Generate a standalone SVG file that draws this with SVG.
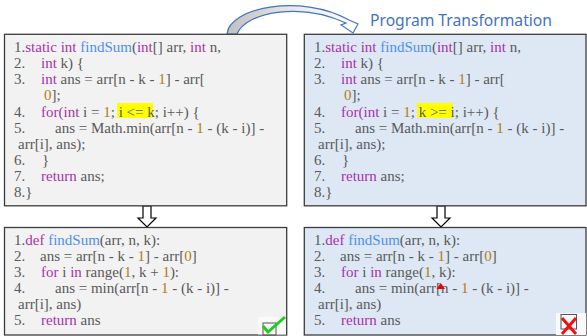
<svg xmlns="http://www.w3.org/2000/svg" width="587" height="336" viewBox="0 0 587 336">
<defs>
<style>
.box{stroke:#3c3c3c;stroke-width:1.3}
.gray{fill:#f2f2f2}
.blue{fill:#dde8f4}
text.c{font-family:"Liberation Serif","Times New Roman",serif;font-size:15px;fill:#595959}
.k{fill:#a832a8}
.f{fill:#4f8ef0}
.n{fill:#b07d12}
.hl{fill:#ffff00}
.down{fill:#ffffff;stroke:#000;stroke-width:1.2}
</style>
<linearGradient id="cg" x1="0" y1="0" x2="1" y2="0">
<stop offset="0" stop-color="#c0c0c0"/>
<stop offset="0.55" stop-color="#ececec"/>
<stop offset="1" stop-color="#ffffff"/>
</linearGradient>
</defs>
<rect width="587" height="336" fill="#ffffff"/>

<g id="connectors">
<path d="M227,34 C229,8 300,-7 349,20 L358,24 L353,33 L341,25 L346,23 C300,2 246,12 237,34 Z" fill="url(#cg)" stroke="#4472c4" stroke-width="1.2" stroke-linejoin="miter"/>
<path class="down" d="M143,206 H151 V218 H156 L147,227 L138,218 H143 Z"/>
<path class="down" d="M437,206 H445 V218 H450 L441,227 L432,218 H437 Z"/>
</g>

<g id="title">
<text x="370" y="26" font-family="Noto Sans,Open Sans,sans-serif" font-size="17" fill="#4472c4" textLength="182" lengthAdjust="spacingAndGlyphs">Program Transformation</text>
</g>

<g id="java-original">
<rect class="box gray" x="4.5" y="34.3" width="282.2" height="171.5"/>
<rect class="hl" x="117" y="103" width="36" height="15"/>
<text class="c" x="14" y="52">1.<tspan class="k">static int</tspan> <tspan class="f">findSum</tspan>(<tspan class="k">int</tspan>[] arr, <tspan class="k">int</tspan> n,</text>
<text class="c" x="14" y="68">2.</text><text class="c" x="41" y="68"><tspan class="k">int</tspan> k) {</text>
<text class="c" x="14" y="84">3.</text><text class="c" x="41" y="84"><tspan class="k">int</tspan> ans = arr[n - k - <tspan class="n">1</tspan>] - arr[</text>
<text class="c" x="44" y="100"><tspan class="n">0</tspan>];</text>
<text class="c" x="14" y="117">4.</text><text class="c" x="41" y="117"><tspan class="k">for(int</tspan> i = <tspan class="n">1</tspan>; i &lt;= k; i++) {</text>
<text class="c" x="14" y="133">5.</text><text class="c" x="55" y="133">ans = Math.min(arr[n - <tspan class="n">1</tspan> - (k - i)] -</text>
<text class="c" x="18" y="149">arr[i], ans);</text>
<text class="c" x="14" y="165">6.</text><text class="c" x="42" y="165">}</text>
<text class="c" x="14" y="181">7.</text><text class="c" x="41" y="181"><tspan class="k">return</tspan> ans;</text>
<text class="c" x="14" y="197">8.}</text>
</g>

<g id="java-transformed">
<rect class="box blue" x="304.3" y="34.3" width="281.7" height="171.5"/>
<rect class="hl" x="417" y="103" width="36" height="15"/>
<text class="c" x="314" y="52">1.<tspan class="k">static int</tspan> <tspan class="f">findSum</tspan>(<tspan class="k">int</tspan>[] arr, <tspan class="k">int</tspan> n,</text>
<text class="c" x="314" y="68">2.</text><text class="c" x="341" y="68"><tspan class="k">int</tspan> k) {</text>
<text class="c" x="314" y="84">3.</text><text class="c" x="341" y="84"><tspan class="k">int</tspan> ans = arr[n - k - <tspan class="n">1</tspan>] - arr[</text>
<text class="c" x="344" y="100"><tspan class="n">0</tspan>];</text>
<text class="c" x="314" y="117">4.</text><text class="c" x="341" y="117"><tspan class="k">for(int</tspan> i = <tspan class="n">1</tspan>; k &gt;= i; i++) {</text>
<text class="c" x="314" y="133">5.</text><text class="c" x="355" y="133">ans = Math.min(arr[n - <tspan class="n">1</tspan> - (k - i)] -</text>
<text class="c" x="318" y="149">arr[i], ans);</text>
<text class="c" x="314" y="165">6.</text><text class="c" x="342" y="165">}</text>
<text class="c" x="314" y="181">7.</text><text class="c" x="341" y="181"><tspan class="k">return</tspan> ans;</text>
<text class="c" x="314" y="197">8.}</text>
</g>

<g id="python-correct">
<rect class="box gray" x="4.5" y="227.5" width="282.2" height="107.5"/>
<text class="c" x="14" y="245">1.<tspan class="k">def</tspan> <tspan class="f">findSum</tspan>(arr, n, k):</text>
<text class="c" x="14" y="261">2.</text><text class="c" x="40" y="261">ans = arr[n - k - <tspan class="n">1</tspan>] - arr[<tspan class="n">0</tspan>]</text>
<text class="c" x="14" y="277">3.</text><text class="c" x="41" y="277"><tspan class="k">for</tspan> i <tspan class="k">in</tspan> range(<tspan class="n">1</tspan>, k + <tspan class="n">1</tspan>):</text>
<text class="c" x="14" y="293">4.</text><text class="c" x="55" y="293">ans = min(arr[n - <tspan class="n">1</tspan> - (k - i)] -</text>
<text class="c" x="18" y="309">arr[i], ans)</text>
<text class="c" x="14" y="325">5.</text><text class="c" x="41" y="325"><tspan class="k">return</tspan> ans</text>
<rect x="258" y="317" width="28" height="17.5" fill="#f9f9f9"/>
<rect x="263" y="323" width="13" height="12" fill="none" stroke="#555555" stroke-width="1"/>
<polyline points="263,326 268,332 285,317" fill="none" stroke="#1ecb1e" stroke-width="3" stroke-linejoin="round"/>
</g>

<g id="python-wrong">
<rect class="box blue" x="304.3" y="227.5" width="281.7" height="107.5"/>
<text class="c" x="314" y="245">1.<tspan class="k">def</tspan> <tspan class="f">findSum</tspan>(arr, n, k):</text>
<text class="c" x="314" y="261">2.</text><text class="c" x="340" y="261">ans = arr[n - k - <tspan class="n">1</tspan>] - arr[<tspan class="n">0</tspan>]</text>
<text class="c" x="314" y="277">3.</text><text class="c" x="341" y="277"><tspan class="k">for</tspan> i <tspan class="k">in</tspan> range(<tspan class="n">1</tspan>, k):</text>
<text class="c" x="314" y="293">4.</text><text class="c" x="355" y="293">ans = min(arr[n - <tspan class="n">1</tspan> - (k - i)] -</text>
<text class="c" x="318" y="309">arr[i], ans)</text>
<text class="c" x="314" y="325">5.</text><text class="c" x="341" y="325"><tspan class="k">return</tspan> ans</text>
<polygon points="440.7,283 445,289 436.5,289" fill="#ee0000"/>
<rect x="556" y="313" width="30" height="22" fill="#f9f9f9"/>
<rect x="561" y="314.5" width="15.5" height="14.5" fill="none" stroke="#555555" stroke-width="1"/>
<path d="M562,318 L576,334 M576,318 L562,334" stroke="#ee1111" stroke-width="3"/>
</g>
</svg>
